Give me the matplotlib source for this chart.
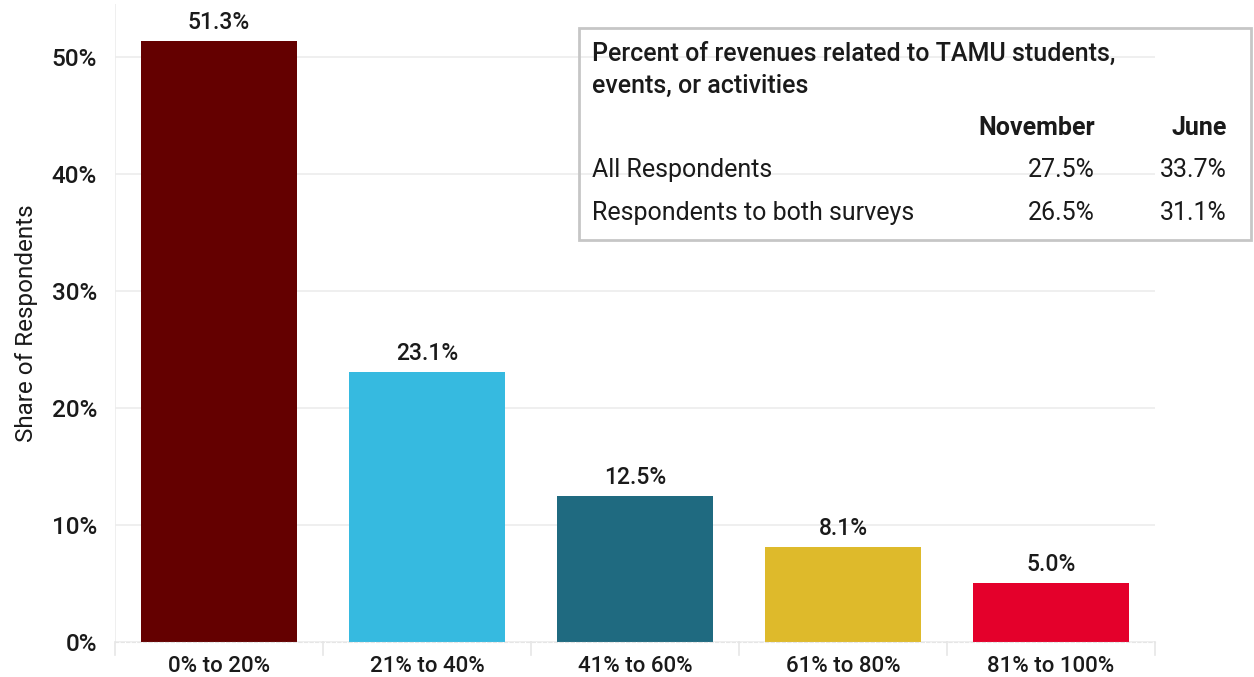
import matplotlib
matplotlib.use("Agg")
import matplotlib.pyplot as plt
from matplotlib.patches import Rectangle

plt.rcParams['font.family'] = ['Roboto', 'DejaVu Sans']

# data
categories = ["0% to 20%", "21% to 40%", "41% to 60%", "61% to 80%", "81% to 100%"]
shares = [51.3, 23.1, 12.5, 8.1, 5.0]
bar_colors = ["#640000", "#36BAE0", "#1F6A80", "#DEBA2B", "#E4002B"]
y_ticks = [0, 10, 20, 30, 40, 50]

table_title = "Percent of revenues related to TAMU students,\nevents, or activities"
table_cols = ["November", "June"]
table_rows = ["All Respondents", "Respondents to both surveys"]
table_november = ["27.5%", "26.5%"]
table_june = ["33.7%", "31.1%"]

TEXT = "#1a1a1a"

fig = plt.figure(figsize=(12.54, 6.77), dpi=100)
ax = fig.add_axes([115 / 1254, 35 / 677, 1040 / 1254, 638 / 677])

x = list(range(len(categories)))
ax.bar(x, shares, width=0.75, color=bar_colors, zorder=2)
for xi, v in zip(x, shares):
    ax.text(xi, v + 0.6, f"{v:.1f}%", ha="center", va="bottom",
            fontsize=16.5, fontweight="medium", color=TEXT)

ax.set_xlim(-0.5, len(categories) - 0.5)
ax.set_ylim(0, 54.5)
ax.set_yticks(y_ticks)
ax.set_yticklabels([f"{t}%" for t in y_ticks])
ax.set_xticks(x)
ax.set_xticklabels(categories)
ax.tick_params(axis="y", length=0, pad=13, labelsize=17.5, labelcolor=TEXT)
ax.tick_params(axis="x", length=0, pad=10, labelsize=16, labelcolor=TEXT)
for lbl in ax.get_xticklabels() + ax.get_yticklabels():
    lbl.set_fontweight("medium")

ax.grid(axis="y", color="#ececec", linewidth=1.2, zorder=0)
for s in ["top", "right", "left"]:
    ax.spines[s].set_visible(False)
ax.spines["bottom"].set_color("#e6e6e6")
ax.spines["bottom"].set_linestyle((0, (3, 2)))
ax.axvline(-0.5, color="#ececec", linewidth=1.2, zorder=0)

# light separators below the baseline
for b in [k - 0.5 for k in range(len(categories) + 1)]:
    ax.plot([b, b], [0, -0.02], transform=ax.get_xaxis_transform(),
            color="#e6e6e6", linewidth=1.2, clip_on=False)

ax.set_ylabel("Share of Respondents", fontsize=17.5, color=TEXT, labelpad=10)

# summary table box (figure pixel coords)
W, H = 1254, 677
def fx(px):
    return px / W
def fy(py):
    return 1 - py / H

fig.patches.append(Rectangle((fx(579), fy(240)), fx(1251) - fx(579), fy(28) - fy(240),
                             transform=fig.transFigure, fill=False,
                             edgecolor="#c6c6c6", linewidth=2))
fig.text(fx(592), fy(70), table_title, ha="left", va="center", fontsize=18,
         fontweight="medium", color=TEXT, linespacing=1.4)
col_x = [1095, 1227]
for cx, c in zip(col_x, table_cols):
    fig.text(fx(cx), fy(128), c, ha="right", va="center", fontsize=18,
             fontweight="bold", color=TEXT)
for i, (r, nv, jv) in enumerate(zip(table_rows, table_november, table_june)):
    yy = fy(170 + 43 * i)
    fig.text(fx(592), yy, r, ha="left", va="center", fontsize=18, color=TEXT)
    fig.text(fx(col_x[0]), yy, nv, ha="right", va="center", fontsize=18, color=TEXT)
    fig.text(fx(col_x[1]), yy, jv, ha="right", va="center", fontsize=18, color=TEXT)

fig.savefig("out.png", dpi=100)
